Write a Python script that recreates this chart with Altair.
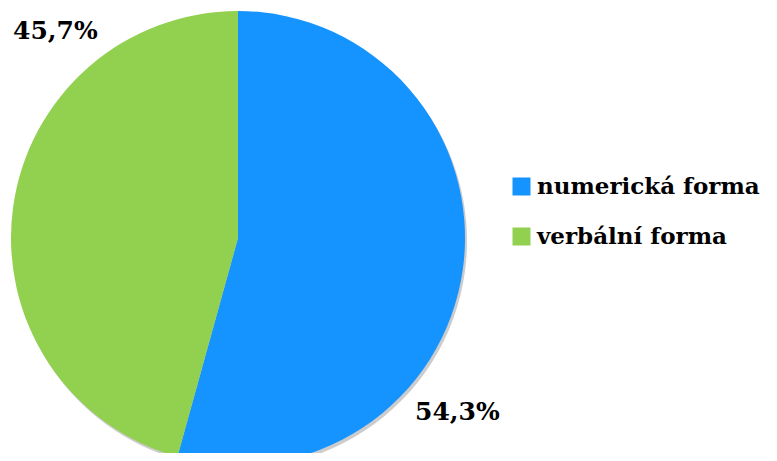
import altair as alt
import pandas as pd

categories = ["numerická forma", "verbální forma"]
values = [54.3, 45.7]
labels = ["54,3%", "45,7%"]
colors = ["#1593FF", "#92D050"]

df = pd.DataFrame({"kategorie": categories, "hodnota": values, "popisek": labels,
                   "poradi": [0, 1]})

CX, CY, R = 230, 230, 227
FONT = "DejaVu Serif"
FS = 25
LFS = 23

shadow = alt.Chart(df).mark_arc(outerRadius=R, color="#9a9a9a", opacity=0.5,
                                xOffset=2, yOffset=3).encode(
    theta=alt.Theta("hodnota:Q", stack=True),
    order=alt.Order("poradi:Q"),
    x=alt.value(CX), y=alt.value(CY),
)

pie = alt.Chart(df).mark_arc(outerRadius=R).encode(
    theta=alt.Theta("hodnota:Q", stack=True),
    order=alt.Order("poradi:Q"),
    color=alt.Color("kategorie:N", sort=categories,
                    scale=alt.Scale(domain=categories, range=colors),
                    legend=alt.Legend(title=None, orient="none", legendX=502, legendY=167,
                                      symbolType="square", symbolSize=324,
                                      symbolStrokeWidth=0,
                                      labelFont=FONT, labelFontSize=LFS,
                                      labelFontWeight="bold", labelColor="#000000",
                                      labelOffset=4, rowPadding=26, padding=0,
                                      labelLimit=400)),
    x=alt.value(CX), y=alt.value(CY),
)

lbl_num = alt.Chart(df[df.poradi == 0]).mark_text(
    font=FONT, fontSize=FS, fontWeight="bold", color="#000000", align="left", baseline="middle"
).encode(text="popisek:N", x=alt.value(407), y=alt.value(404))

lbl_verb = alt.Chart(df[df.poradi == 1]).mark_text(
    font=FONT, fontSize=FS, fontWeight="bold", color="#000000", align="left", baseline="middle"
).encode(text="popisek:N", x=alt.value(5), y=alt.value(23))

chart = alt.layer(shadow, pie, lbl_num, lbl_verb).properties(
    width=761, height=445,
    autosize=alt.AutoSizeParams(type="none"),
    padding=0,
).configure_view(stroke=None)

chart.save("out.html", embed_options={"renderer": "svg", "actions": False})
